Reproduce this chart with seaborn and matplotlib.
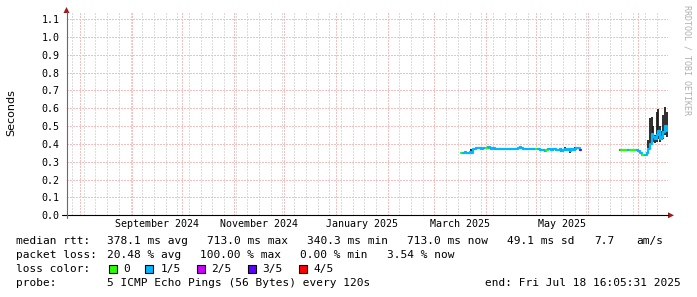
import matplotlib
matplotlib.use("Agg")
import numpy as np
import pandas as pd
import matplotlib.pyplot as plt
import seaborn as sns
from matplotlib.lines import Line2D
from matplotlib.patches import Rectangle, Polygon

# ---------------- data ----------------
time_start = "2024-07-23 16:05:31"
time_end = "2025-07-18 16:05:31"

seg1_start = "2025-03-17"
seg1_rtt = [0.352, 0.352, 0.353, 0.352, 0.352, 0.353, 0.352,
            0.372, 0.374, 0.376, 0.375, 0.378, 0.374, 0.376, 0.380,
            0.377, 0.382, 0.375, 0.374, 0.378, 0.372, 0.373, 0.371, 0.372, 0.374,
            0.370, 0.371, 0.372, 0.370, 0.369, 0.371, 0.373, 0.370, 0.372, 0.378,
            0.383, 0.376, 0.372, 0.373, 0.371, 0.369, 0.370, 0.372, 0.371, 0.370,
            0.369, 0.370, 0.368, 0.367, 0.366, 0.360, 0.364, 0.370, 0.369, 0.368,
            0.370, 0.371, 0.368, 0.366, 0.372, 0.362, 0.365, 0.374, 0.368, 0.370,
            0.360, 0.372, 0.366, 0.372, 0.375, 0.378, 0.366]
seg1_loss = [0, 1, 1, 1, 1, 1, 1,
             1, 1, 1, 1, 1, 1, 1, 1,
             0, 1, 1, 1, 1, 1, 1, 1, 1, 1,
             1, 1, 1, 1, 1, 1, 1, 1, 1, 1,
             1, 1, 1, 1, 1, 1, 1, 1, 1, 1,
             0, 1, 1, 1, 1, 1, 0, 1, 1, 1,
             1, 1, 1, 1, 1, 1, 1, 1, 1, 1,
             1, 1, 1, 1, 1, 1, 3]

seg2_start = "2025-06-20"
seg2_rtt = [0.366, 0.367, 0.366, 0.366, 0.367, 0.366, 0.366, 0.367, 0.366, 0.366, 0.365,
            0.362, 0.350, 0.340, 0.336, 0.338, 0.350, 0.372, 0.400, 0.455, 0.440,
            0.425, 0.450, 0.470, 0.430, 0.440, 0.465, 0.500, 0.470]
seg2_loss = [2, 0, 0, 0, 0, 1, 0, 0, 0, 0, 1,
             1, 1, 0, 0, 1, 1, 1, 1, 1, 1,
             1, 1, 1, 1, 1, 1, 1, 1]

smoke_dates = ["2025-03-23", "2025-04-02", "2025-04-21", "2025-05-06", "2025-05-16",
               "2025-05-18", "2025-05-21", "2025-05-24",
               "2025-07-07", "2025-07-08", "2025-07-09", "2025-07-10", "2025-07-11",
               "2025-07-12", "2025-07-13", "2025-07-14", "2025-07-15", "2025-07-16",
               "2025-07-17", "2025-07-18"]
smoke_lo = [0.352, 0.372, 0.372, 0.355, 0.355, 0.360, 0.352, 0.360,
            0.380, 0.400, 0.420, 0.410, 0.405, 0.410, 0.430, 0.410, 0.420, 0.430,
            0.450, 0.440]
smoke_hi = [0.372, 0.390, 0.390, 0.370, 0.375, 0.385, 0.370, 0.385,
            0.420, 0.545, 0.550, 0.500, 0.450, 0.580, 0.595, 0.500, 0.470, 0.560,
            0.605, 0.580]

loss_labels = ["0", "1/5", "2/5", "3/5", "4/5"]
loss_colors = ["#26ff00", "#00b8ff", "#cc00ff", "#5e00ff", "#ff0000"]

y_ticks = [0.0, 0.1, 0.2, 0.3, 0.4, 0.5, 0.6, 0.7, 0.8, 0.9, 1.0, 1.1]
x_label_months = ["2024-09-01", "2024-11-01", "2025-01-01", "2025-03-01", "2025-05-01"]
x_tick_labels = ["September 2024", "November 2024", "January 2025", "March 2025", "May 2025"]

legend_rows = [
    [("median rtt:", 16), ("378.1 ms avg", 106.7), ("713.0 ms max", 206.7),
     ("340.3 ms min", 306.7), ("713.0 ms now", 406.7), ("49.1 ms sd", 506.7),
     ("7.7", 594.7), ("am/s", 636.4)],
    [("packet loss:", 16), ("20.48 % avg", 106.7), ("100.00 % max", 200),
     ("0.00 % min", 300), ("3.54 % now", 386.7)],
    [("loss color:", 16)],
    [("probe:", 16), ("5 ICMP Echo Pings (56 Bytes) every 120s", 106.7)],
]
end_text = "end: Fri Jul 18 16:05:31 2025"

# ---------------- figure ----------------
sns.set_style("white")
plt.rcParams["font.family"] = ["DejaVu Sans Mono", "DejaVu Sans"]

W, H = 697, 297
fig = plt.figure(figsize=(W / 100, H / 100), dpi=100)
fig.patch.set_facecolor("white")


def fx(px):
    return px / W


def fy(py):
    return (H - py) / H


L, R, B, T = 66.5, 667.7, 215.3, 13.0
ax = fig.add_axes([fx(L), fy(B), fx(R) - fx(L), fy(T) - fy(B)])
ax.set_facecolor("white")
for s in ax.spines.values():
    s.set_visible(False)

x0, x1 = pd.Timestamp(time_start), pd.Timestamp(time_end)
ax.set_xlim(x0, x1)
ax.set_ylim(0, 1.134)

# grid
major_c = "#f3c0c0"
minor_c = "#dcdcdc"
dots = (0, (1.4, 1.4))
months = pd.date_range("2024-08-01", "2025-07-01", freq="MS")
weeks = pd.date_range("2024-07-27", "2025-07-18", freq="W-SAT")
for d in weeks:
    if d not in months:
        ax.axvline(d, color=minor_c, lw=0.72, ls=dots, zorder=0, antialiased=False)
for d in months:
    ax.axvline(d, color=major_c, lw=0.72, ls=dots, zorder=0, antialiased=False)
for yv in y_ticks[1:]:
    ax.axhline(yv, color=major_c, lw=0.72, ls=dots, zorder=0, antialiased=False)

# smoke
ax.vlines(pd.to_datetime(smoke_dates), smoke_lo, smoke_hi, colors="#1c1c1c",
          lw=1.3, zorder=2)


# median lines coloured by loss
def draw_segment(start, rtt, loss):
    dates = pd.date_range(start, periods=len(rtt), freq="D")
    df = pd.DataFrame({"date": dates, "rtt": rtt, "loss": loss})
    n = len(df)
    i = 0
    while i < n:
        j = i
        while j + 1 < n and df.loss.iloc[j + 1] == df.loss.iloc[i]:
            j += 1
        part = df.iloc[i:min(j + 2, n)]
        if len(part) == 1:
            part = pd.DataFrame({"date": [part.date.iloc[0],
                                          part.date.iloc[0] + pd.Timedelta(hours=14)],
                                 "rtt": [part.rtt.iloc[0]] * 2})
        sns.lineplot(data=part, x="date", y="rtt", color=loss_colors[df.loss.iloc[i]],
                     lw=1.6, ax=ax, estimator=None, drawstyle="steps-post", zorder=3)
        i = j + 1


draw_segment(seg1_start, seg1_rtt, seg1_loss)
draw_segment(seg2_start, seg2_rtt, seg2_loss)

# ticks
ax.set_yticks(y_ticks)
ax.set_yticklabels([f"{v:.1f}" for v in y_ticks])
mids = []
for m in x_label_months:
    a = pd.Timestamp(m)
    b = a + pd.offsets.MonthBegin(1)
    mids.append(a + (b - a) / 2)
ax.set_xticks(mids)
ax.set_xticklabels(x_tick_labels)
ax.tick_params(axis="both", length=0, labelsize=7.2, colors="black")
ax.tick_params(axis="y", pad=5)
ax.tick_params(axis="x", pad=2.6)
ax.set_xlabel("")
ax.set_ylabel("")

# axes lines and arrows
fig.add_artist(Line2D([fx(62), fx(668)], [fy(B), fy(B)], color="black", lw=0.8))
fig.add_artist(Line2D([fx(L), fx(L)], [fy(B + 3), fy(12)], color="#6a6a6a", lw=0.8))
arrow_c = "#9a1c1c"
fig.add_artist(Polygon([[fx(668), fy(B - 3)], [fx(668), fy(B + 3)], [fx(674), fy(B)]],
                       closed=True, transform=fig.transFigure, color=arrow_c, lw=0))
fig.add_artist(Polygon([[fx(L - 3), fy(13)], [fx(L + 3), fy(13)], [fx(L), fy(7)]],
                       closed=True, transform=fig.transFigure, color=arrow_c, lw=0))

# y label
fig.text(fx(11), fy(113), "Seconds", rotation=90, ha="center", va="center",
         fontsize=8, family="DejaVu Sans", color="black")

# watermark
fig.text(fx(687), fy(5), "RRDTOOL / TOBI OETIKER", rotation=270, ha="center", va="top",
         fontsize=6.0, color="#b0b0b0", family="DejaVu Sans Mono")

# legend text
row_y = [241, 255, 269, 283]
for row, yy in zip(legend_rows, row_y):
    for txt, xx in row:
        fig.text(fx(xx), fy(yy), txt, ha="left", va="center", fontsize=8,
                 family="DejaVu Sans Mono", color="black")
fig.text(fx(681), fy(283), end_text, ha="right", va="center", fontsize=8,
         family="DejaVu Sans Mono", color="black")

box_x = [108.5, 145.3, 196.5, 247.5, 298.5]
lab_x = [123.3, 160.3, 211.3, 262.3, 313.3]
for bx, lx, lab, col in zip(box_x, lab_x, loss_labels, loss_colors):
    fig.add_artist(Rectangle((fx(bx), fy(273)), 8 / W, 8 / H, transform=fig.transFigure,
                             facecolor=col, edgecolor="black", lw=0.8))
    fig.text(fx(lx), fy(269), lab, ha="left", va="center", fontsize=8,
             family="DejaVu Sans Mono", color="black")

fig.savefig("out.png", dpi=100, facecolor="white")
